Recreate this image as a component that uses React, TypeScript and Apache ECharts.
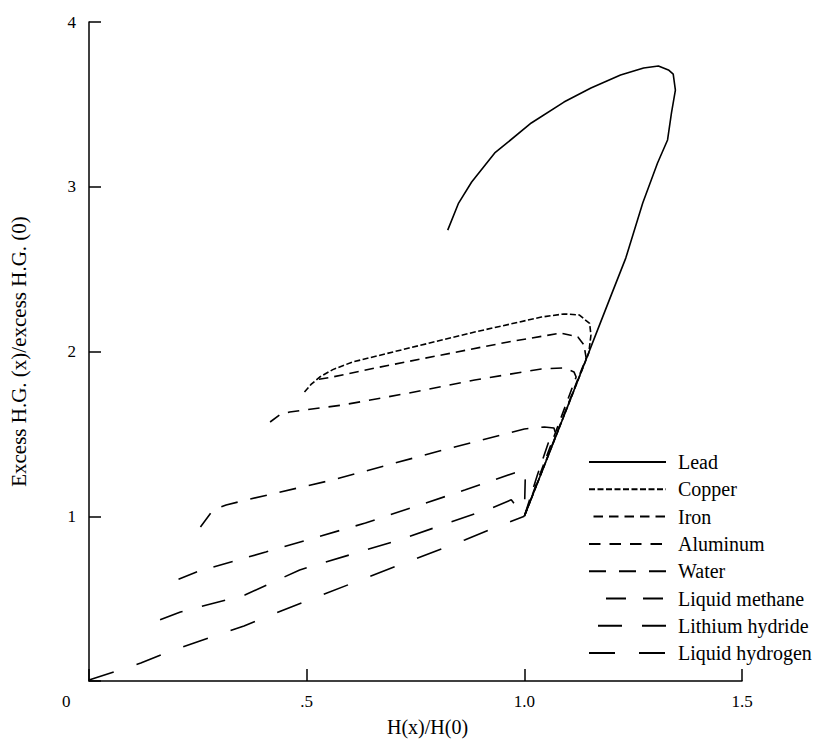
import React, { useEffect, useRef } from "react";
import * as echarts from "echarts";

const seriesNames = [
  "Lead",
  "Copper",
  "Iron",
  "Aluminum",
  "Water",
  "Liquid methane",
  "Lithium hydride",
  "Liquid hydrogen",
];

const xTickLabels: Record<string, string> = { "0": "", "0.5": ".5", "1": "1.0", "1.5": "1.5" };

const leadData = [
  [1.0, 1.0], [1.1, 1.67], [1.2, 2.345], [1.233, 2.567], [1.272, 2.901], [1.306, 3.144],
  [1.329, 3.284], [1.338, 3.448], [1.347, 3.587], [1.342, 3.684], [1.331, 3.709],
  [1.308, 3.733], [1.274, 3.721], [1.221, 3.678], [1.153, 3.599], [1.091, 3.514],
  [1.016, 3.387], [0.932, 3.205], [0.879, 3.029], [0.849, 2.901], [0.824, 2.737],
];

const copperData = [
  [0.495, 1.754], [0.51, 1.8], [0.53, 1.845], [0.56, 1.89], [0.605, 1.936], [0.735, 2.021],
  [0.886, 2.118], [1.039, 2.209], [1.091, 2.228], [1.126, 2.222], [1.15, 2.17],
  [1.153, 2.1], [1.148, 1.991], [1.0, 1.0],
];

const ironData = [
  [0.518, 1.827], [0.559, 1.845], [0.658, 1.9], [0.81, 1.979], [0.963, 2.058],
  [1.084, 2.112], [1.123, 2.088], [1.137, 2.039], [1.142, 1.961], [1.0, 1.0],
];

const aluminumData = [
  [0.416, 1.572], [0.438, 1.615], [0.461, 1.633], [0.582, 1.675], [0.735, 1.748],
  [0.886, 1.827], [1.039, 1.894], [1.091, 1.9], [1.114, 1.876], [1.119, 1.845], [1.0, 1.0],
];

const waterData = [
  [0.256, 0.935], [0.285, 1.038], [0.315, 1.068], [0.361, 1.099], [0.559, 1.22],
  [0.788, 1.384], [1.0, 1.53], [1.046, 1.542], [1.068, 1.536], [1.072, 1.5],
  [1.055, 1.445], [1.03, 1.25], [1.0, 1.0],
];

const methaneData = [
  [0.176, 0.552], [0.201, 0.613], [0.247, 0.662], [0.406, 0.783], [0.635, 0.959],
  [0.863, 1.159], [0.977, 1.263], [1.0, 1.27], [1.002, 1.22], [1.0, 1.0],
];

const lithiumData = [
  [0.144, 0.352], [0.21, 0.419], [0.358, 0.522], [0.484, 0.674], [0.712, 0.856],
  [0.925, 1.05], [0.97, 1.1], [1.0, 1.0],
];

const hydrogenData = [
  [0.0, 0.006], [0.119, 0.109], [0.194, 0.188], [0.356, 0.334], [0.406, 0.388],
  [0.635, 0.625], [0.863, 0.856], [0.947, 0.947], [1.0, 1.0],
];

const allData = [leadData, copperData, ironData, aluminumData, waterData, methaneData, lithiumData, hydrogenData];

const dashes: (string | number[])[] = [
  "solid",
  [6, 2.5],
  [9.5, 6],
  [11.5, 9],
  [17, 13],
  [20, 17],
  [24, 20],
  [26, 24],
];
const dashOffsets = [0, 0, 10.5, 0, 0, 20, 35, 0];

const FONT = "Liberation Serif, Times New Roman, serif";

export default function App() {
  const ref = useRef<HTMLDivElement>(null);
  useEffect(() => {
    if (!ref.current) return;
    const chart = echarts.init(ref.current, null, { renderer: "svg" });
    const axisLine = { show: true, lineStyle: { color: "#000", width: 1.5 } };
    const axisTick = { show: true, inside: true, length: 12, lineStyle: { color: "#000", width: 1.5 } };
    chart.setOption({
      animation: false,
      backgroundColor: "#fff",
      grid: { left: 85, right: 73, top: 22, bottom: 61 },
      legend: {
        orient: "vertical",
        left: 583,
        top: 447,
        itemWidth: 77,
        itemHeight: 14,
        itemGap: 7.3,
        data: seriesNames,
        itemStyle: { opacity: 0, borderWidth: 0 },
        textStyle: { fontFamily: FONT, fontSize: 20, color: "#000", lineHeight: 20, padding: [0, 0, 0, 7] },
      },
      xAxis: {
        type: "value",
        min: 0,
        max: 1.5,
        interval: 0.5,
        name: "H(x)/H(0)",
        nameLocation: "middle",
        nameGap: 36,
        nameTextStyle: { fontFamily: FONT, fontSize: 20, color: "#000", padding: [0, 0, 0, 24] },
        axisLine,
        axisTick,
        splitLine: { show: false },
        axisLabel: {
          margin: 12,
          fontFamily: FONT,
          fontSize: 17,
          color: "#000",
          formatter: (v: number) => xTickLabels[String(v)] ?? String(v),
        },
      },
      yAxis: {
        type: "value",
        min: 0,
        max: 4,
        interval: 1,
        name: "Excess H.G. (x)/excess H.G. (0)",
        nameLocation: "middle",
        nameGap: 60,
        nameTextStyle: { fontFamily: FONT, fontSize: 21, color: "#000" },
        axisLine,
        axisTick,
        splitLine: { show: false },
        axisLabel: {
          margin: 13,
          fontFamily: FONT,
          fontSize: 17,
          color: "#000",
          formatter: (v: number) => (v === 0 ? "" : String(v)),
        },
      },
      graphic: [
        {
          type: "text",
          left: 62,
          top: 693,
          style: { text: "0", font: `17px ${FONT}`, fill: "#000" },
        },
      ],
      series: seriesNames.map((name, i) => ({
        name,
        type: "line",
        data: allData[i],
        symbol: "none",
        showSymbol: false,
        lineStyle: { color: "#000", width: 1.6, type: dashes[i], dashOffset: dashOffsets[i] },
        itemStyle: { color: "#000" },
      })),
    });
    return () => chart.dispose();
  }, []);
  return (
    <div
      ref={ref}
      style={{ position: "absolute", left: 0, top: 0, width: 815, height: 742 }}
    />
  );
}
